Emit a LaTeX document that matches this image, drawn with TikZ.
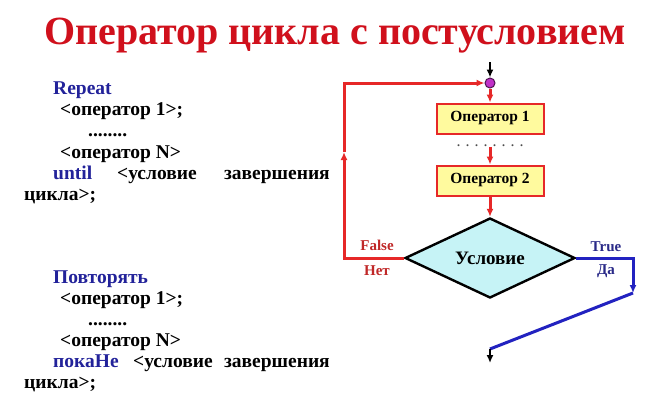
\documentclass[tikz,border=0pt]{standalone}
\usepackage{fontspec}
\setmainfont{Liberation Serif}
\usetikzlibrary{arrows.meta,shapes.geometric}
\definecolor{titlered}{HTML}{D0101C}
\definecolor{kwblue}{HTML}{22229A}
\definecolor{linered}{HTML}{E62828}
\definecolor{lineblue}{HTML}{2222C0}
\definecolor{boxfill}{HTML}{FFFA9E}
\definecolor{diafill}{HTML}{C6F3F6}
\definecolor{dotfill}{HTML}{C030C8}
\definecolor{lblred}{HTML}{C02828}
\definecolor{lblblue}{HTML}{2A2A88}
\begin{document}
\begin{tikzpicture}[x=1pt,y=-1pt,
  codetxt/.style={anchor=base west,inner sep=0pt,font=\fontsize{19.5}{22}\selectfont\bfseries},
  kwtxt/.style={codetxt,text=kwblue},
  opbox/.style={draw=linered,line width=2pt,fill=boxfill,minimum width=107pt,minimum height=30pt,inner sep=0pt,font=\fontsize{15.5}{18}\selectfont\bfseries},
  tip/.style={-{Latex[length=8pt,width=7pt]}},
  redln/.style={draw=linered,line width=3pt},
  bluln/.style={draw=lineblue,line width=3pt},
  blkln/.style={draw=black,line width=2pt},
  lbl/.style={inner sep=0pt,font=\fontsize{15}{17}\selectfont\bfseries}
]
\useasboundingbox[fill=white] (0,0) rectangle (672,416);

% title
\node[anchor=base,inner sep=0pt,text=titlered,font=\fontsize{40}{44}\selectfont\bfseries] (title) at (335,44) {Оператор цикла с постусловием};

% first code block
\node[kwtxt] (r1) at (53,94) {Repeat};
\node[codetxt] (r2) at (60,115) {<оператор 1>;};
\node[codetxt] (r3) at (88,136) {........};
\node[codetxt] (r4) at (60,158) {<оператор N>};
\node[kwtxt] (r5) at (53,179) {until};
\node[codetxt] (r5b) at (117,179) {<условие};
\node[codetxt,anchor=base east] (r5c) at (330,179) {завершения};
\node[codetxt] (r6) at (24,200) {цикла>;};

% second code block
\node[kwtxt] (p1) at (53,283) {Повторять};
\node[codetxt] (p2) at (60,304) {<оператор 1>;};
\node[codetxt] (p3) at (88,325) {........};
\node[codetxt] (p4) at (60,346) {<оператор N>};
\node[kwtxt] (p5) at (53,367) {покаНе};
\node[codetxt] (p5b) at (133,367) {<условие};
\node[codetxt,anchor=base east] (p5c) at (330,367) {завершения};
\node[codetxt] (p6) at (24,388) {цикла>;};

% flowchart
\coordinate (in) at (490,62);
\node[circle,draw=black!60!dotfill,line width=1pt,fill=dotfill,minimum size=10pt,inner sep=0pt] (c) at (490,83) {};
\node[opbox] (b1) at (490,118.5) {Оператор 1};
\node[inner sep=0pt,font=\fontsize{12}{12}\selectfont\bfseries,text=black!70] (d) at (490,146) {.\ \ .\ \ .\ \ .\ \ .\ \ .\ \ .\ \ .};
\node[opbox] (b2) at (490,180.5) {Оператор 2};
\node[diamond,draw=black,line width=2.4pt,fill=diafill,minimum width=170pt,minimum height=80pt,aspect=2.125,inner sep=0pt,font=\fontsize{19}{22}\selectfont\bfseries] (cond) at (490,258) {Условие};

\coordinate (lb) at (344,258);
\coordinate (lm) at (344,152);
\coordinate (lt) at (344,83);
\coordinate (rt) at (633,258);
\coordinate (rb) at (633,293);
\coordinate (ex) at (490,349);
\coordinate (exend) at (490,363);

\draw[blkln,tip] (in) -- (c.north);
\draw[redln,tip] (c.south) -- (b1.north);
\draw[redln,tip] (d.south) -- (b2.north);
\draw[redln,tip] (b2.south) -- (cond.north);
\draw[redln,tip] (cond.west) -- (lb) -- (lm);
\draw[redln,tip] (lm) -- (lt) -- (c.west);
\draw[bluln,tip] (cond.east) -- (rt) -- (rb);
\draw[bluln] (rb) -- (ex);
\draw[blkln,tip] (ex) -- (exend);

\node[lbl,text=lblred] (f1) at (377,245) {False};
\node[lbl,text=lblred] (f2) at (377,271) {Нет};
\node[lbl,text=lblblue] (t1) at (606,247) {True};
\node[lbl,text=lblblue] (t2) at (606,271) {Да};
\end{tikzpicture}
\end{document}
